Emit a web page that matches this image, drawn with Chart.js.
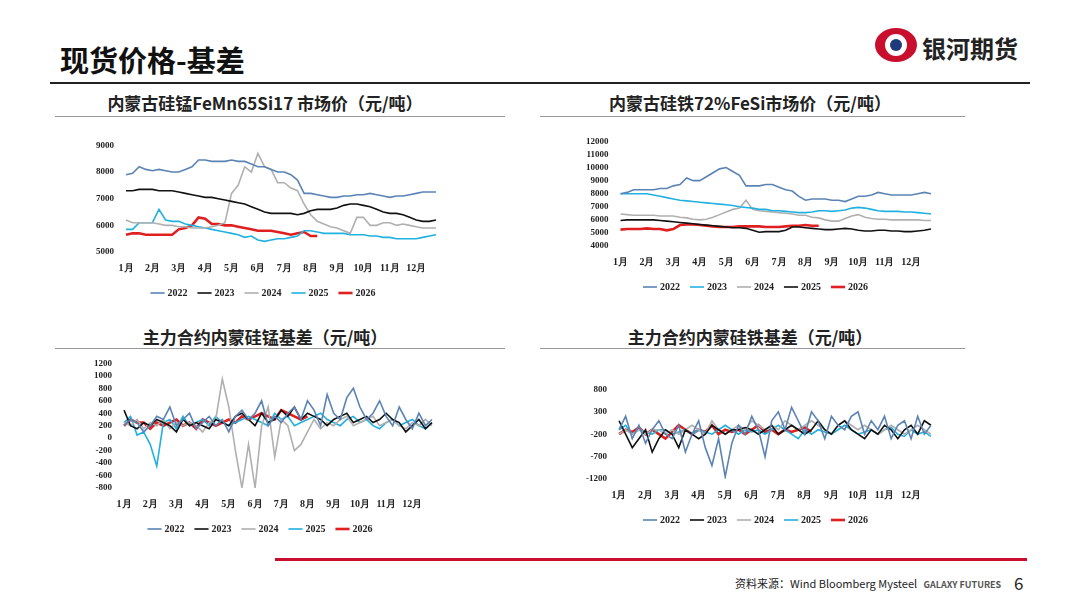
<!DOCTYPE html>
<html><head><meta charset="utf-8">
<script src="https://cdn.jsdelivr.net/npm/chart.js@4"></script>
<style>
body{margin:0;width:1080px;height:608px;background:#fff;position:relative;font-family:"Noto Sans CJK SC",sans-serif;overflow:hidden}
.abs{position:absolute}
.pt{position:absolute;font-weight:bold;font-size:17px;color:#222;text-align:center}
.ul{position:absolute;height:1px;background:#999}
</style></head><body>
<div class="abs" style="left:60px;top:38px;font-size:29px;font-weight:bold;color:#111">现货价格-基差</div>
<div class="abs" style="left:50px;top:82px;width:980px;height:2px;background:#222"></div>
<div class="abs" style="left:875px;top:28px;width:42px;height:34px;border-radius:50%;background:#c8102e"></div>
<div class="abs" style="left:885px;top:34px;width:22px;height:22px;border-radius:50%;background:#fff"></div>
<div class="abs" style="left:890px;top:39px;width:12px;height:12px;border-radius:50%;background:#1f3a7a"></div>
<div class="abs" style="left:922px;top:30px;font-size:24px;font-weight:bold;color:#222">银河期货</div>

<div class="pt" style="left:45px;top:90px;width:440px">内蒙古硅锰FeMn65Si17 市场价（元/吨）</div>
<div class="ul" style="left:55px;top:116px;width:450px"></div>
<div class="pt" style="left:540px;top:90px;width:420px">内蒙古硅铁72%FeSi市场价（元/吨）</div>
<div class="ul" style="left:540px;top:116px;width:425px"></div>
<div class="pt" style="left:45px;top:324px;width:440px">主力合约内蒙硅锰基差（元/吨）</div>
<div class="ul" style="left:55px;top:348px;width:450px"></div>
<div class="pt" style="left:540px;top:324px;width:420px">主力合约内蒙硅铁基差（元/吨）</div>
<div class="ul" style="left:540px;top:348px;width:425px"></div>

<div class="abs" style="left:92px;top:136px;width:350px;height:172px"><canvas id="c1"></canvas></div>
<div class="abs" style="left:582px;top:132px;width:355px;height:170px"><canvas id="c2"></canvas></div>
<div class="abs" style="left:90px;top:354px;width:348px;height:190px"><canvas id="c3"></canvas></div>
<div class="abs" style="left:582px;top:380px;width:355px;height:155px"><canvas id="c4"></canvas></div>

<div class="abs" style="left:275px;top:558px;width:752px;height:3px;background:#c8102e"></div>
<div class="abs" style="left:735px;top:575px;font-size:11px;color:#222">资料来源：Wind Bloomberg Mysteel <span style="font-size:9px;color:#555;font-weight:bold;margin-left:4px">GALAXY FUTURES</span></div>
<div class="abs" style="left:1014px;top:570px;font-size:17px;color:#222">6</div>

<script>
const weeks = Array.from({length:48},(_,i)=>i);
const monthLabels = ["1月","2月","3月","4月","5月","6月","7月","8月","9月","10月","11月","12月"];
const years = ["2022","2023","2024","2025","2026"];

const mn2022=[7900,7950,8200,8100,8050,8100,8050,8000,8000,8100,8200,8450,8450,8400,8400,8400,8450,8400,8400,8300,8200,8200,8100,8000,8000,7900,7700,7200,7200,7150,7100,7050,7050,7100,7100,7150,7150,7200,7150,7100,7050,7100,7100,7150,7200,7250,7250,7250];
const mn2023=[7300,7300,7350,7350,7350,7300,7300,7300,7250,7200,7150,7100,7050,7050,7000,6950,6900,6850,6800,6700,6600,6500,6450,6450,6450,6450,6400,6450,6550,6600,6600,6600,6650,6750,6800,6800,6750,6700,6600,6500,6450,6450,6400,6300,6200,6150,6150,6200];
const mn2024=[6200,6100,6100,6100,6100,6050,6000,6000,5950,5950,5900,5900,5900,5950,6000,6100,7200,7500,8200,8000,8700,8200,8100,7600,7600,7400,7300,6800,6400,6150,6050,5950,5900,5800,5700,6300,6300,6000,6000,6100,6100,6000,6050,6000,5950,5900,5900,5900];
const mn2025=[5850,5850,6100,6100,6100,6600,6200,6150,6150,6050,6000,5950,5900,5850,5800,5750,5700,5650,5550,5600,5450,5400,5450,5500,5500,5550,5600,5800,5800,5750,5700,5700,5700,5700,5650,5650,5650,5600,5600,5550,5550,5500,5500,5500,5500,5550,5600,5650];
const mn2026=[5650,5700,5700,5650,5650,5650,5650,5650,5850,5900,6000,6300,6250,6050,6050,6000,6000,5950,5900,5850,5800,5800,5800,5750,5700,5650,5700,5750,5600,5600];

const si2022=[8000,8100,8300,8300,8300,8300,8400,8400,8600,8700,9200,9000,9000,9300,9600,9900,10000,9700,9400,8600,8600,8600,8700,8700,8500,8300,8200,7800,7500,7600,7600,7600,7500,7500,7400,7600,7800,7800,7900,8100,8000,7900,7900,7900,7900,8000,8100,8000];
const si2023=[8000,8000,8000,8000,8000,7900,7800,7700,7600,7500,7450,7400,7350,7300,7250,7200,7150,7100,7000,6950,6900,6800,6800,6700,6700,6650,6600,6550,6550,6600,6700,6700,6650,6700,6750,6900,6950,6900,6800,6700,6650,6650,6650,6600,6600,6550,6500,6450];
const si2024=[6450,6400,6350,6350,6350,6350,6300,6300,6300,6200,6150,6050,6000,6050,6200,6400,6600,6800,6900,7500,6800,6700,6650,6600,6550,6500,6450,6350,6350,6200,6150,6000,5900,5900,6100,6300,6400,6200,6100,6050,6050,6000,6000,6000,6000,6000,5950,5950];
const si2025=[5950,6000,6000,6000,6000,6000,5950,5900,5850,5800,5750,5700,5650,5600,5550,5500,5450,5400,5400,5350,5200,5050,5100,5100,5100,5200,5450,5450,5400,5350,5300,5250,5250,5300,5350,5300,5200,5150,5150,5200,5200,5150,5150,5100,5100,5150,5200,5300];
const si2026=[5250,5300,5300,5300,5350,5300,5300,5200,5300,5600,5650,5650,5600,5550,5500,5450,5450,5450,5500,5500,5500,5500,5450,5450,5450,5500,5550,5550,5600,5550,5550];

const bm2022=[200,300,250,100,200,350,300,500,200,300,400,150,250,350,200,300,100,350,450,300,400,600,200,350,250,400,500,300,600,450,200,700,400,300,650,800,500,300,400,600,350,200,500,300,150,400,200,300];
const bm2023=[450,200,150,250,200,300,250,200,100,300,200,250,200,150,300,250,200,350,400,300,200,400,250,300,450,350,500,300,400,350,300,200,300,350,400,250,300,350,250,300,400,300,250,100,200,300,150,250];
const bm2024=[250,200,300,150,250,200,300,150,250,200,250,200,100,250,300,950,500,-200,-800,-100,-800,200,500,-300,300,200,-200,-100,100,300,150,250,200,300,350,200,250,300,350,200,250,300,200,150,250,200,300,200];
const bm2025=[250,350,50,100,-100,-450,250,300,150,350,200,250,300,200,350,250,200,250,300,350,300,250,200,400,300,350,200,250,300,350,400,300,250,200,300,350,250,300,200,150,250,300,200,250,300,200,150,250];
const bm2026=[200,300,250,250,150,250,200,250,300,200,250,150,300,250,200,250,300,250,350,300,350,400,350,300,450,400,350,300,350];

const bs2022=[-100,200,-300,0,-400,-100,100,-200,-300,0,-600,-200,100,-500,-900,-300,-1150,-400,0,-200,200,-100,-700,100,300,-100,400,100,-200,300,100,-300,200,0,-100,200,300,-200,100,-100,200,-300,0,100,-300,200,-200,0];
const bs2023=[100,-200,-500,-300,-100,-600,-300,-100,-200,-500,-100,-200,-300,-200,0,-100,-200,-100,-100,-50,-100,-200,-100,0,-200,-100,0,-100,-200,-100,100,-100,-200,0,100,-100,-200,-300,-100,-200,0,-100,-300,-100,0,-200,100,0];
const bs2024=[-200,-100,-200,-100,-200,-100,-100,-200,-100,-200,-100,0,-100,-200,100,-100,-200,-100,0,-100,100,0,-100,0,-100,100,0,-100,0,100,0,-100,-200,0,100,0,-100,0,-100,-200,-100,0,-100,-200,-100,0,-100,-200];
const bs2025=[-100,0,-200,-100,-150,-200,-100,-100,-200,-150,-100,-200,-100,-150,-200,-100,0,-100,-200,-100,-150,-100,-200,-100,0,-100,-200,-300,-100,-200,-100,-150,-200,-100,0,-100,-200,-150,-100,-200,-100,-50,-200,-250,-100,-200,-150,-250];
const bs2026=[-200,-100,-150,-50,-200,-100,-200,-300,-150,0,-100,-200,-100,-150,0,-200,-100,-150,-100,-200,-100,0,-150,-100,-200,-100,-150,-100,-50,-150];

const BLUE="#5b84b5", BLACK="#111111", GRAY="#b0b0b0", CYAN="#21b1e0", RED="#e02020";
const tickFont={family:"Liberation Serif",weight:"bold",size:10};

function make(id, series, colors, ymin, ymax, step){
  new Chart(document.getElementById(id),{
    type:'line',
    data:{labels:weeks,datasets:series.map((s,i)=>({label:years[i],data:s,borderColor:colors[i],backgroundColor:colors[i],
      borderWidth:i===4?2.6:1.6,pointRadius:0,tension:0}))},
    options:{responsive:true,maintainAspectRatio:false,animation:false,
      layout:{padding:{right:6}},
      plugins:{legend:{position:'bottom',labels:{usePointStyle:true,pointStyle:'line',boxWidth:28,padding:12,color:'#222',font:tickFont}},tooltip:{enabled:false}},
      scales:{
        x:{grid:{display:false},border:{color:'#fff'},ticks:{autoSkip:false,maxRotation:0,padding:2,color:'#222',font:tickFont,
          callback:(v,i)=>i%4===0?monthLabels[i/4]:''}},
        y:{min:ymin,max:ymax,grid:{display:false},border:{display:false},
          ticks:{stepSize:step,autoSkip:false,color:'#222',font:{...tickFont,size:9},padding:4,callback:v=>String(v)}}
      }}
  });
}
make('c1',[mn2022,mn2023,mn2024,mn2025,mn2026],[BLUE,BLACK,GRAY,CYAN,RED],5000,9000,1000);
make('c2',[si2022,si2023,si2024,si2025,si2026],[BLUE,CYAN,GRAY,BLACK,RED],4000,12000,1000);
make('c3',[bm2022,bm2023,bm2024,bm2025,bm2026],[BLUE,BLACK,GRAY,CYAN,RED],-800,1200,200);
make('c4',[bs2022,bs2023,bs2024,bs2025,bs2026],[BLUE,BLACK,GRAY,CYAN,RED],-1200,800,500);
</script>
</body></html>
